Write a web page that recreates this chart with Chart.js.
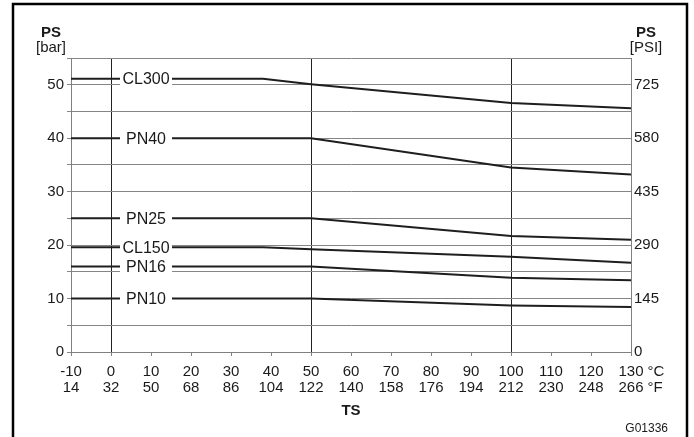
<!DOCTYPE html>
<html><head><meta charset="utf-8">
<script src="https://cdn.jsdelivr.net/npm/chart.js@4"></script>
<style>html,body{margin:0;padding:0;background:#fff;}#wrap{width:694px;height:437px;position:relative;}</style>
</head><body><div id="wrap"><canvas id="c" width="694" height="437"></canvas></div>
<script>
// ---- data ----
const pnTempsC = [-10, 50, 100, 130];
const clTempsC = [-10, 38, 50, 100, 130];
const pn10 = [10, 10, 8.7, 8.4];
const pn16 = [16, 16, 13.9, 13.4];
const pn25 = [25, 25, 21.7, 21.0];
const pn40 = [40, 40, 34.5, 33.2];
const cl150 = [19.6, 19.6, 19.2, 17.8, 16.7];
const cl300 = [51.1, 51.1, 50.1, 46.6, 45.6];
const xTicksC = [-10, 0, 10, 20, 30, 40, 50, 60, 70, 80, 90, 100, 110, 120, 130];
const xTicksF = [14, 32, 50, 68, 86, 104, 122, 140, 158, 176, 194, 212, 230, 248, 266];
const yTicksBar = [0, 10, 20, 30, 40, 50];
const yTicksPsi = [0, 145, 290, 435, 580, 725];
const labelTempC = 8.75;

const FONT = "'Liberation Sans', Arial, Helvetica, sans-serif";
const TXT = '#1a1a1a';

function pts(xs, ys) { return xs.map((x, i) => ({x: x, y: ys[i]})); }
const series = [
  {name: 'CL300', xs: clTempsC, ys: cl300},
  {name: 'PN40', xs: pnTempsC, ys: pn40},
  {name: 'PN25', xs: pnTempsC, ys: pn25},
  {name: 'CL150', xs: clTempsC, ys: cl150},
  {name: 'PN16', xs: pnTempsC, ys: pn16},
  {name: 'PN10', xs: pnTempsC, ys: pn10}
];

const labelsPlugin = {
  id: 'lineLabels',
  afterDatasetsDraw(chart) {
    const ctx = chart.ctx, xs = chart.scales.x, ys = chart.scales.y;
    ctx.save();
    ctx.font = '16px ' + FONT;
    ctx.textAlign = 'center';
    ctx.textBaseline = 'middle';
    series.forEach(s => {
      const px = xs.getPixelForValue(labelTempC);
      const py = ys.getPixelForValue(s.ys[0]);
      ctx.fillStyle = '#fff';
      ctx.fillRect(px - 26, py - 8, 52, 16);
      ctx.fillStyle = TXT;
      ctx.fillText(s.name, px, py + 1);
    });
    ctx.restore();
  },
  afterDraw(chart) {
    const ctx = chart.ctx, xs = chart.scales.x;
    ctx.save();
    // frame
    ctx.strokeStyle = '#000';
    ctx.lineWidth = 2.5;
    ctx.beginPath();
    ctx.moveTo(13, 437); ctx.lineTo(13, 4); ctx.lineTo(687, 4); ctx.lineTo(687, 437);
    ctx.stroke();
    // axis titles
    ctx.fillStyle = TXT;
    ctx.textAlign = 'center';
    ctx.textBaseline = 'alphabetic';
    ctx.font = 'bold 15px ' + FONT;
    ctx.fillText('PS', 51, 37);
    ctx.fillText('PS', 646, 37);
    ctx.font = '15px ' + FONT;
    ctx.fillText('[bar]', 51, 52);
    ctx.fillText('[PSI]', 646, 52);
    ctx.font = 'bold 15px ' + FONT;
    ctx.fillText('TS', (chart.chartArea.left + chart.chartArea.right) / 2, 415);
    // units after last tick
    ctx.font = '15px ' + FONT;
    ctx.textAlign = 'left';
    ctx.textBaseline = 'middle';
    const last = xTicksC[xTicksC.length - 1];
    const px = xs.getPixelForValue(last) + ctx.measureText(String(last)).width / 2 + 4;
    ctx.fillText('°C', px, 372);
    ctx.fillText('°F', px, 388);
    ctx.font = '12px ' + FONT;
    ctx.textAlign = 'right';
    ctx.textBaseline = 'alphabetic';
    ctx.fillText('G01336', 668, 432);
    ctx.restore();
  }
};

new Chart(document.getElementById('c'), {
  type: 'line',
  data: {
    datasets: series.map(s => ({
      label: s.name,
      data: pts(s.xs, s.ys),
      borderColor: '#1e1e1e',
      borderWidth: 2,
      pointRadius: 0,
      tension: 0,
      fill: false
    }))
  },
  options: {
    responsive: false,
    animation: false,
    devicePixelRatio: 1,
    layout: {padding: {top: 58, left: 0, right: 0, bottom: 0}},
    plugins: {legend: {display: false}, tooltip: {enabled: false}},
    scales: {
      x: {
        type: 'linear', min: -10, max: 130,
        afterFit(s) { s.height = 85; },
        ticks: {
          stepSize: 10, autoSkip: false, maxRotation: 0, padding: 8, color: TXT,
          font: {family: FONT, size: 15, lineHeight: 16 / 15},
          callback(v) { const i = xTicksC.indexOf(v); return i < 0 ? '' : [String(xTicksC[i]), String(xTicksF[i])]; }
        },
        grid: {
          color: c => (c.tick && [0, 50, 100].includes(c.tick.value)) ? '#222' : 'rgba(0,0,0,0)',
          lineWidth: 1, tickLength: 4, tickColor: '#808080', drawTicks: true
        },
        border: {color: '#808080', width: 1}
      },
      y: {
        position: 'left', min: 0, max: 55,
        afterFit(s) { s.width = 71; },
        ticks: {
          stepSize: 5, padding: 3, color: TXT, font: {family: FONT, size: 15},
          callback(v) { const i = yTicksBar.indexOf(v); return i < 0 ? '' : String(yTicksBar[i]); }
        },
        grid: {color: '#858585', lineWidth: 1, tickLength: 4, tickColor: '#858585'},
        border: {color: '#808080', width: 1}
      },
      y2: {
        position: 'right', min: 0, max: 55,
        afterFit(s) { s.width = 63; },
        ticks: {
          stepSize: 5, padding: 3, color: TXT, font: {family: FONT, size: 15},
          callback(v) { const i = yTicksBar.indexOf(v); return i < 0 ? '' : String(yTicksPsi[i]); }
        },
        grid: {drawOnChartArea: false, drawTicks: false},
        border: {color: '#808080', width: 1}
      }
    }
  },
  plugins: [labelsPlugin]
});
</script>
</body></html>
